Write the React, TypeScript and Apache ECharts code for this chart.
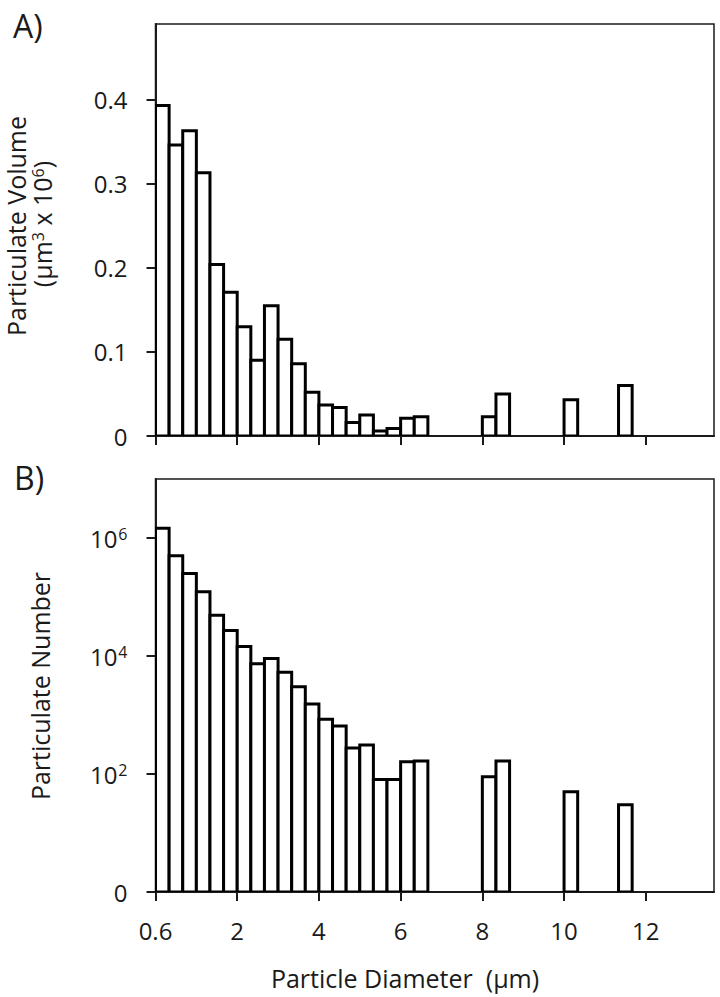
import React, { useEffect, useRef } from "react";
import * as echarts from "echarts";

// Histogram bins: index of each 1/3-µm bin that holds a bar
const BIN_WIDTH = 1 / 3;
const binIndex = [0, 1, 2, 3, 4, 5, 6, 7, 8, 9, 10, 11, 12, 13, 14, 15, 16, 17, 18, 19, 24, 25, 30, 34];

// A) Particulate volume (µm³ x 10⁶)
const volume = [
  0.393, 0.346, 0.363, 0.313, 0.204, 0.171, 0.13, 0.09, 0.155, 0.115, 0.086, 0.052,
  0.037, 0.034, 0.016, 0.025, 0.006, 0.009, 0.021, 0.023, 0.023, 0.05, 0.043, 0.06,
];

// B) Particulate number (log scale)
const count = [
  1.47e6, 5.0e5, 2.5e5, 1.23e5, 4.9e4, 2.7e4, 1.45e4, 7.4e3, 9.1e3, 5.3e3, 3.0e3, 1.54e3,
  845, 650, 277, 309, 81, 81, 162, 166, 90, 166, 50, 30,
];

const xTicks = [0, 2, 4, 6, 8, 10, 12];
const xTickLabels = ["0.6", "2", "4", "6", "8", "10", "12"];
const volTicks = [0, 0.1, 0.2, 0.3, 0.4];
const numTicks = [1, 1e2, 1e4, 1e6];

const X_MAX = 13.67;
const FONT = "'Open Sans', 'Noto Sans', sans-serif";
const INK = "#1a1a1a";

export default function App() {
  const ref = useRef<HTMLDivElement>(null);

  useEffect(() => {
    document.body.style.margin = "0";
    const chart = echarts.init(ref.current!, null, { renderer: "svg" });

    const volData = binIndex.map((b, i) => [b * BIN_WIDTH, (b + 1) * BIN_WIDTH, volume[i]]);
    const numData = binIndex.map((b, i) => [b * BIN_WIDTH, (b + 1) * BIN_WIDTH, count[i]]);

    const makeRender = (base: number) => (params: any, api: any) => {
      const x0 = api.value(0);
      const x1 = api.value(1);
      const v = api.value(2);
      const p0 = api.coord([x0, v]);
      const p1 = api.coord([x1, base]);
      return {
        type: "rect",
        shape: { x: p0[0], y: p0[1], width: p1[0] - p0[0], height: p1[1] - p0[1] },
        style: { fill: "#fff", stroke: "#000", lineWidth: 3, lineJoin: "miter" },
      };
    };

    const xAxisBase = (gridIndex: number, showLabels: boolean) => ({
      type: "value",
      gridIndex,
      min: 0,
      max: X_MAX,
      interval: 2,
      axisLine: { show: true, lineStyle: { color: INK, width: 2 } },
      axisTick: {
        show: true,
        customValues: xTicks,
        length: 9,
        inside: false,
        lineStyle: { color: INK, width: 2 },
      },
      axisLabel: {
        show: showLabels,
        customValues: xTicks,
        formatter: (v: number) => xTickLabels[xTicks.indexOf(Math.round(v))] ?? "",
        fontFamily: FONT,
        fontSize: 24,
        color: INK,
        margin: 26,
      },
      splitLine: { show: false },
    });

    chart.setOption({
      animation: false,
      backgroundColor: "#fff",
      grid: [
        { left: 155.5, top: 24, width: 558.5, height: 412, show: true, borderColor: INK, borderWidth: 1.5 },
        { left: 155.5, top: 479, width: 558.5, height: 413, show: true, borderColor: INK, borderWidth: 1.5 },
      ],
      xAxis: [xAxisBase(0, false), xAxisBase(1, true)],
      yAxis: [
        {
          type: "value",
          gridIndex: 0,
          min: 0,
          max: 0.49,
          interval: 0.1,
          axisLine: { show: true, lineStyle: { color: INK, width: 2 } },
          axisTick: { show: true, customValues: volTicks, length: 9, lineStyle: { color: INK, width: 2 } },
          axisLabel: {
            customValues: volTicks,
            formatter: (v: number) => (v === 0 ? "0" : v.toFixed(1)),
            fontFamily: FONT,
            fontSize: 24,
            color: INK,
            margin: 28,
          },
          splitLine: { show: false },
        },
        {
          type: "log",
          gridIndex: 1,
          logBase: 10,
          min: 1,
          max: 1e7,
          axisLine: { show: true, lineStyle: { color: INK, width: 2 } },
          axisTick: { show: true, customValues: numTicks, length: 9, lineStyle: { color: INK, width: 2 } },
          axisLabel: {
            customValues: numTicks,
            formatter: (v: number) =>
              v <= 1 ? "{b|0}" : `{b|10}{s|${Math.round(Math.log10(v))}}`,
            rich: {
              b: { fontFamily: FONT, fontSize: 24, color: INK },
              s: { fontFamily: FONT, fontSize: 16, color: INK, verticalAlign: "top", padding: [0, 0, 0, 1] },
            },
            fontFamily: FONT,
            fontSize: 24,
            color: INK,
            margin: 28,
          },
          splitLine: { show: false },
        },
      ],
      series: [
        {
          type: "custom",
          xAxisIndex: 0,
          yAxisIndex: 0,
          renderItem: makeRender(0),
          data: volData,
          encode: { x: [0, 1], y: 2 },
          clip: true,
        },
        {
          type: "custom",
          xAxisIndex: 1,
          yAxisIndex: 1,
          renderItem: makeRender(1),
          data: numData,
          encode: { x: [0, 1], y: 2 },
          clip: true,
        },
      ],
      graphic: [
        {
          type: "text",
          x: 13,
          y: 25,
          style: { text: "A)", font: `32px ${FONT}`, fill: INK, align: "left", verticalAlign: "middle" },
        },
        {
          type: "text",
          x: 14,
          y: 477,
          style: { text: "B)", font: `32px ${FONT}`, fill: INK, align: "left", verticalAlign: "middle" },
        },
        {
          type: "text",
          x: 16,
          y: 226,
          rotation: Math.PI / 2,
          style: {
            text: "Particulate Volume",
            font: `25px ${FONT}`,
            fill: INK,
            align: "center",
            verticalAlign: "middle",
          },
        },
        {
          type: "text",
          x: 42,
          y: 224,
          rotation: Math.PI / 2,
          style: {
            text: "{b|(µm}{s|3}{b| x 10}{s|6}{b|)}",
            rich: {
              b: { fontFamily: FONT, fontSize: 25, fill: INK, color: INK },
              s: { fontFamily: FONT, fontSize: 16, fill: INK, color: INK, verticalAlign: "top" },
            },
            align: "center",
            verticalAlign: "middle",
          },
        },
        {
          type: "text",
          x: 40,
          y: 686,
          rotation: Math.PI / 2,
          style: {
            text: "Particulate Number",
            font: `25px ${FONT}`,
            fill: INK,
            align: "center",
            verticalAlign: "middle",
          },
        },
        {
          type: "text",
          x: 405,
          y: 978,
          style: {
            text: "Particle Diameter  (µm)",
            font: `25px ${FONT}`,
            fill: INK,
            align: "center",
            verticalAlign: "middle",
          },
        },
      ],
    });

    return () => chart.dispose();
  }, []);

  return <div ref={ref} style={{ width: 720, height: 997 }} />;
}
